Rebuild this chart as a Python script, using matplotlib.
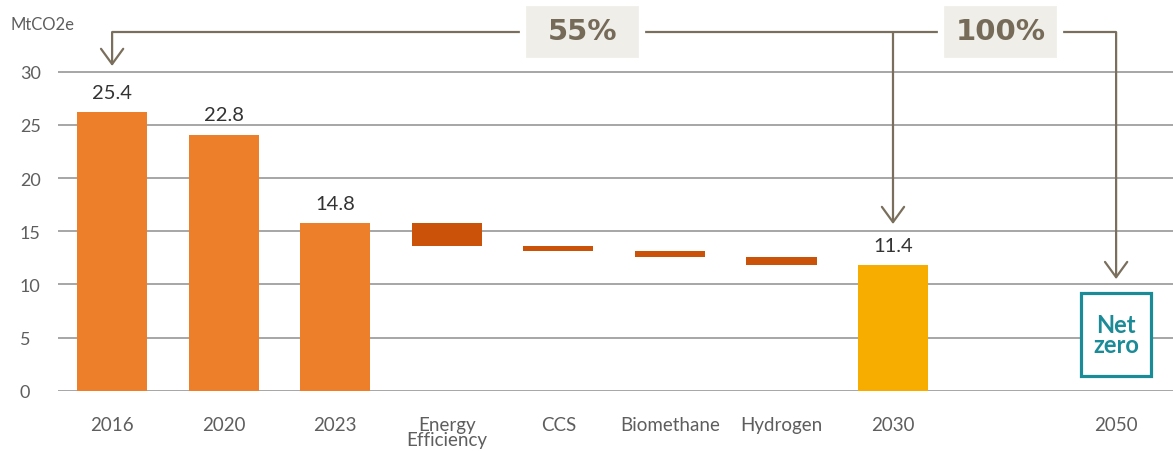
import numpy as np
import matplotlib
matplotlib.use("Agg")
import matplotlib.pyplot as plt
from matplotlib.patches import Rectangle

plt.rcParams['font.family'] = ['Lato', 'DejaVu Sans']

# categories along the x axis ('' = empty slot before 2050)
categories = ['2016', '2020', '2023', 'Energy\nEfficiency', 'CCS',
              'Biomethane', 'Hydrogen', '2030', '', '2050']
# full bars (as drawn) and their printed labels
total_cats = ['2016', '2020', '2023', '2030']
total_values = [26.2, 24.1, 15.8, 11.8]
total_labels = ['25.4', '22.8', '14.8', '11.4']
# waterfall reductions between 2023 and 2030
step_cats = ['Energy\nEfficiency', 'CCS', 'Biomethane', 'Hydrogen']
step_drops = [2.15, 0.47, 0.58, 0.80]
# percentage boxes
pct_labels = ['55%', '100%']

orange = '#ee7f2a'
dark_orange = '#cb5309'
yellow = '#f6ad00'
teal = '#1b8b97'
brown = '#7a6f5c'
grey_txt = '#5e5e5e'

fig = plt.figure(figsize=(11.73, 4.52), dpi=100)
ax = fig.add_axes([58 / 1173, 60.3 / 452, 1115 / 1173, 391.7 / 452])
ax.set_xlim(-0.485, 9.51)
ax.set_ylim(0, 36.85)

xpos = {c: i for i, c in enumerate(categories)}
width = 0.63

# total bars
for c, v, lab in zip(total_cats, total_values, total_labels):
    col = yellow if c == '2030' else orange
    ax.bar(xpos[c], v, width=width, color=col, zorder=2)
    ax.annotate(lab, (xpos[c], v), xytext=(0, 8), textcoords='offset points',
                ha='center', va='bottom', fontsize=14.5, color='#333333')

# waterfall steps
level = total_values[2]
for c, d in zip(step_cats, step_drops):
    ax.bar(xpos[c], d, bottom=level - d, width=width, color=dark_orange, zorder=2)
    level -= d

# net zero box for 2050
ax.bar(xpos['2050'], 7.8, bottom=1.38, width=width, color='white',
       edgecolor=teal, linewidth=2.3, zorder=2)
ax.text(xpos['2050'], 5.3, 'Net\nzero', ha='center', va='center', fontsize=17,
        fontweight='bold', color=teal, linespacing=0.85, zorder=3)

# brackets with arrows
yb = 33.74
ax.plot([xpos['2016'], xpos['2050']], [yb, yb], color=brown, lw=1.6,
        solid_capstyle='butt', zorder=3)
for c, tip in [('2016', 30.55), ('2030', 15.68), ('2050', 10.5)]:
    ax.annotate('', xy=(xpos[c], tip), xytext=(xpos[c], yb),
                arrowprops=dict(arrowstyle='->,head_length=1.1,head_width=0.8',
                                color=brown, lw=1.6, shrinkA=0, shrinkB=0),
                zorder=3)

for cx, lab in zip([4.216, 7.966], pct_labels):
    ax.add_patch(Rectangle((cx - 0.533, 31.01), 1.066, 5.46, facecolor='#efeee9',
                           edgecolor='white', linewidth=4.5, zorder=4))
    ax.text(cx, 33.8, lab, ha='center', va='center', fontsize=21,
            fontweight='bold', color='#766b59', family='DejaVu Sans', zorder=5)

# axes styling
ax.set_yticks(range(0, 31, 5))
ax.set_xticks(range(len(categories)))
ax.set_xticklabels(categories, fontsize=13.5, color=grey_txt, linespacing=0.9)
ax.tick_params(axis='x', length=0, pad=18)
ax.tick_params(axis='y', length=0, pad=27.4, labelsize=13, labelcolor=grey_txt)
for lbl in ax.get_yticklabels():
    lbl.set_horizontalalignment('left')
ax.grid(axis='y', color='#a6a6a6', lw=1.4)
ax.set_axisbelow(True)
for s in ax.spines.values():
    s.set_visible(False)

fig.text(10 / 1173, 1 - 25 / 452, 'MtCO2e', ha='left', va='center',
         fontsize=12, color=grey_txt)

fig.savefig('out.png', dpi=100)
